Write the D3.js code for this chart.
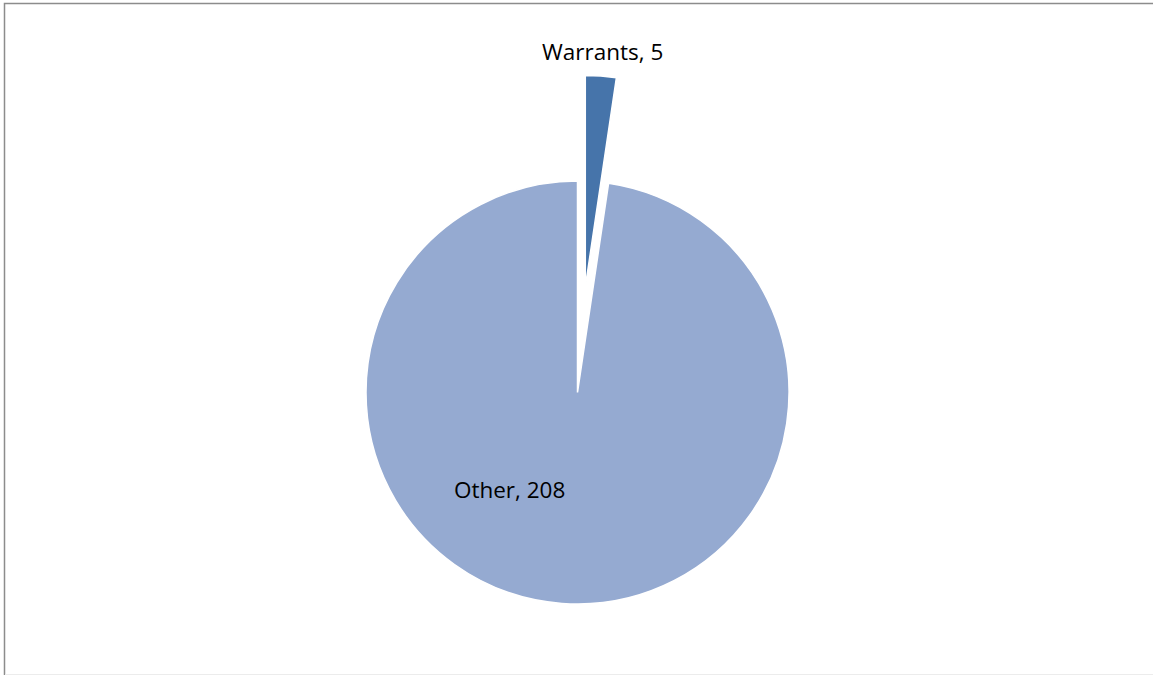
<!DOCTYPE html>
<html>
<head>
<meta charset="utf-8">
<script src="https://cdn.jsdelivr.net/npm/d3@7"></script>
<style>
  html, body { margin: 0; padding: 0; background: #fff; }
  svg { display: block; }
  .label { font-family: "Open Sans", sans-serif; font-size: 22.5px; fill: #000; }
</style>
</head>
<body>
<svg id="chart" width="1153" height="675"></svg>
<script>
// --- Data ---
const categories = ["Warrants", "Other"];
const values = [5, 208];
const colors = ["#4674AA", "#95AAD1"];
const exploded = [true, false];

const svg = d3.select("#chart");
const width = 1153, height = 675;

// chart frame (right edge runs off the picture, bottom is a faint line)
svg.append("path")
    .attr("d", `M4.5,${height}V3.5H${width}`)
    .attr("fill", "none").attr("stroke", "#8c8c8c").attr("stroke-width", 1.5);
svg.append("line")
    .attr("x1", 5).attr("x2", width).attr("y1", 674.5).attr("y2", 674.5)
    .attr("stroke", "#ececec").attr("stroke-width", 1);

const cx = 577.5, cy = 392.5, radius = 211.5;
const explodeDist = radius * 0.5;

const pie = d3.pie().sort(null).value(d => d.value);
const arcs = pie(categories.map((c, i) => ({ name: c, value: values[i], color: colors[i], exploded: exploded[i] })));

const arc = d3.arc().innerRadius(0).outerRadius(radius);

const g = svg.append("g").attr("transform", `translate(${cx},${cy})`);

function offset(d) {
    if (!d.data.exploded) return [0, 0];
    const mid = (d.startAngle + d.endAngle) / 2;
    return [Math.sin(mid) * explodeDist, -Math.cos(mid) * explodeDist];
}

g.selectAll("path.slice").data(arcs).enter().append("path")
    .attr("class", "slice")
    .attr("transform", d => `translate(${offset(d)})`)
    .attr("d", arc)
    .attr("fill", d => d.data.color)
    .attr("stroke", "#fff")
    .attr("stroke-width", 1.5);

// labels: outside end for the exploded slice, best-fit inside for the big one
const labelPos = [
    { angle: null, r: radius + 24 },
    { angle: 214.8 * Math.PI / 180, r: 119 }
];

g.selectAll("text.label").data(arcs).enter().append("text")
    .attr("class", "label")
    .attr("text-anchor", "middle")
    .attr("dy", "0.36em")
    .attr("x", (d, i) => {
        const a = labelPos[i].angle ?? (d.startAngle + d.endAngle) / 2;
        return offset(d)[0] + Math.sin(a) * labelPos[i].r;
    })
    .attr("y", (d, i) => {
        const a = labelPos[i].angle ?? (d.startAngle + d.endAngle) / 2;
        return offset(d)[1] - Math.cos(a) * labelPos[i].r;
    })
    .text(d => `${d.data.name}, ${d.data.value}`);
</script>
</body>
</html>
